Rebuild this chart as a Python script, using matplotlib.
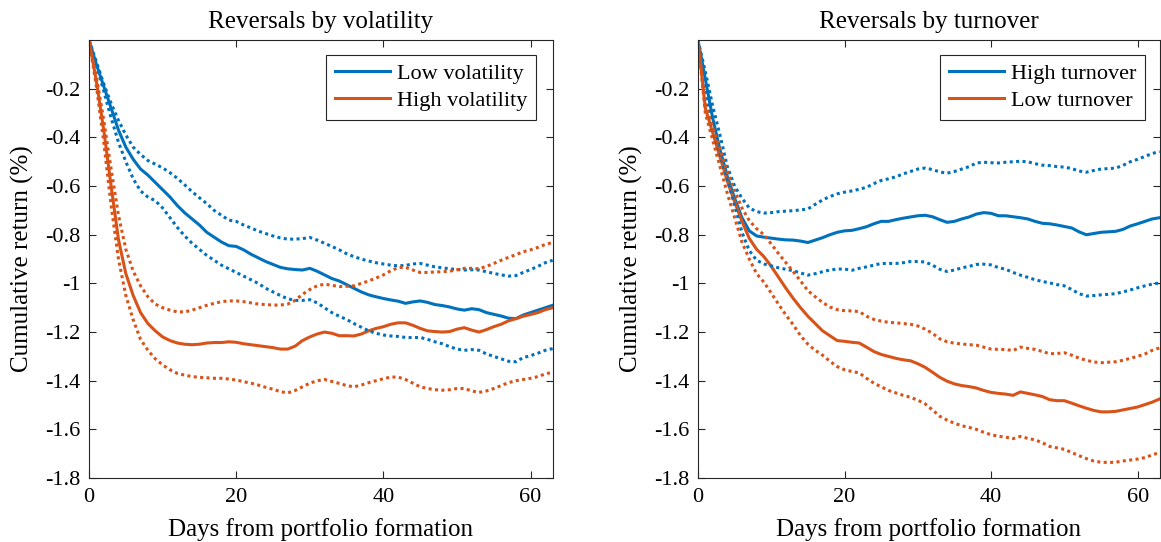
import matplotlib
matplotlib.use("Agg")
import matplotlib.pyplot as plt
import numpy as np

plt.rcParams['font.family'] = ['Liberation Serif', 'DejaVu Serif']

days = list(range(64))

# ---- Left panel: Reversals by volatility ----
low_vol = [0, -0.10, -0.19, -0.28, -0.37, -0.44, -0.49, -0.53, -0.555, -0.585,
           -0.615, -0.645, -0.68, -0.71, -0.735, -0.76, -0.79, -0.81, -0.83, -0.845,
           -0.848, -0.862, -0.88, -0.895, -0.91, -0.922, -0.934, -0.94, -0.943, -0.945,
           -0.938, -0.95, -0.965, -0.98, -0.99, -1.005, -1.02, -1.035, -1.047, -1.055,
           -1.062, -1.068, -1.073, -1.082, -1.076, -1.072, -1.078, -1.087, -1.091, -1.097,
           -1.105, -1.11, -1.104, -1.108, -1.12, -1.127, -1.134, -1.143, -1.145, -1.13,
           -1.12, -1.11, -1.10, -1.09]
low_vol_hi = [0, -0.09, -0.18, -0.26, -0.33, -0.39, -0.44, -0.47, -0.495, -0.51,
              -0.525, -0.545, -0.568, -0.595, -0.623, -0.648, -0.672, -0.70, -0.72, -0.74,
              -0.745, -0.76, -0.772, -0.785, -0.795, -0.805, -0.813, -0.818, -0.818, -0.816,
              -0.811, -0.822, -0.835, -0.848, -0.862, -0.878, -0.89, -0.90, -0.908, -0.915,
              -0.92, -0.925, -0.928, -0.926, -0.92, -0.918, -0.925, -0.932, -0.936, -0.94,
              -0.943, -0.945, -0.944, -0.945, -0.952, -0.959, -0.965, -0.97, -0.968, -0.955,
              -0.943, -0.93, -0.915, -0.905]
low_vol_lo = [0, -0.10, -0.21, -0.32, -0.42, -0.50, -0.57, -0.62, -0.645, -0.66,
              -0.69, -0.73, -0.77, -0.805, -0.835, -0.86, -0.885, -0.905, -0.925, -0.94,
              -0.955, -0.97, -0.985, -1.00, -1.02, -1.035, -1.05, -1.063, -1.07, -1.07,
              -1.067, -1.08, -1.10, -1.12, -1.135, -1.148, -1.165, -1.18, -1.195, -1.205,
              -1.212, -1.216, -1.218, -1.222, -1.223, -1.222, -1.23, -1.24, -1.248, -1.26,
              -1.27, -1.275, -1.272, -1.275, -1.29, -1.30, -1.31, -1.32, -1.322, -1.305,
              -1.297, -1.287, -1.275, -1.268]
high_vol = [0, -0.17, -0.37, -0.60, -0.82, -0.96, -1.05, -1.12, -1.165, -1.195,
            -1.22, -1.235, -1.245, -1.25, -1.252, -1.25, -1.245, -1.243, -1.243, -1.24,
            -1.242, -1.248, -1.252, -1.256, -1.26, -1.264, -1.27, -1.27, -1.258, -1.235,
            -1.22, -1.208, -1.20, -1.205, -1.215, -1.215, -1.216, -1.208, -1.195, -1.185,
            -1.178, -1.168, -1.162, -1.162, -1.172, -1.185, -1.195, -1.198, -1.20, -1.198,
            -1.188, -1.182, -1.192, -1.20, -1.19, -1.178, -1.168, -1.154, -1.145, -1.135,
            -1.128, -1.12, -1.108, -1.10]
high_vol_hi = [0, -0.15, -0.33, -0.53, -0.72, -0.86, -0.95, -1.01, -1.055, -1.085,
               -1.10, -1.11, -1.117, -1.117, -1.11, -1.10, -1.09, -1.082, -1.075, -1.072,
               -1.072, -1.075, -1.08, -1.085, -1.087, -1.089, -1.089, -1.085, -1.07, -1.045,
               -1.025, -1.01, -1.003, -1.008, -1.013, -1.012, -1.01, -1.00, -0.99, -0.978,
               -0.965, -0.948, -0.935, -0.934, -0.945, -0.955, -0.955, -0.953, -0.952, -0.95,
               -0.944, -0.938, -0.938, -0.94, -0.93, -0.918, -0.905, -0.893, -0.882, -0.87,
               -0.862, -0.852, -0.84, -0.832]
high_vol_lo = [0, -0.19, -0.42, -0.68, -0.90, -1.05, -1.15, -1.23, -1.275, -1.31,
               -1.335, -1.355, -1.37, -1.377, -1.383, -1.386, -1.388, -1.39, -1.39, -1.393,
               -1.397, -1.404, -1.41, -1.418, -1.427, -1.435, -1.445, -1.45, -1.44, -1.425,
               -1.41, -1.40, -1.395, -1.403, -1.411, -1.42, -1.425, -1.418, -1.408, -1.40,
               -1.392, -1.385, -1.385, -1.395, -1.41, -1.425, -1.432, -1.437, -1.439, -1.437,
               -1.432, -1.432, -1.442, -1.448, -1.442, -1.432, -1.42, -1.408, -1.40, -1.395,
               -1.39, -1.383, -1.372, -1.365]

# ---- Right panel: Reversals by turnover ----
high_to = [0, -0.16, -0.32, -0.45, -0.56, -0.65, -0.73, -0.784, -0.805, -0.81,
           -0.814, -0.818, -0.821, -0.822, -0.826, -0.832, -0.822, -0.812, -0.80, -0.79,
           -0.784, -0.782, -0.775, -0.767, -0.755, -0.745, -0.745, -0.738, -0.732, -0.727,
           -0.722, -0.72, -0.726, -0.738, -0.749, -0.745, -0.735, -0.727, -0.715, -0.709,
           -0.712, -0.722, -0.722, -0.726, -0.73, -0.735, -0.745, -0.753, -0.755, -0.76,
           -0.766, -0.772, -0.788, -0.80, -0.795, -0.79, -0.788, -0.786, -0.778, -0.764,
           -0.755, -0.745, -0.735, -0.73]
high_to_hi = [0, -0.13, -0.27, -0.39, -0.52, -0.60, -0.65, -0.69, -0.705, -0.711,
              -0.709, -0.705, -0.703, -0.701, -0.698, -0.694, -0.675, -0.657, -0.643, -0.632,
              -0.625, -0.62, -0.613, -0.605, -0.59, -0.577, -0.57, -0.562, -0.55, -0.54,
              -0.53, -0.526, -0.532, -0.542, -0.547, -0.54, -0.53, -0.52, -0.505, -0.502,
              -0.504, -0.505, -0.502, -0.50, -0.498, -0.50, -0.508, -0.514, -0.516, -0.52,
              -0.522, -0.528, -0.538, -0.543, -0.536, -0.53, -0.528, -0.526, -0.515, -0.50,
              -0.49, -0.478, -0.466, -0.458]
high_to_lo = [0, -0.19, -0.37, -0.47, -0.57, -0.68, -0.79, -0.865, -0.905, -0.92,
              -0.928, -0.936, -0.942, -0.948, -0.957, -0.966, -0.96, -0.952, -0.945, -0.941,
              -0.941, -0.946, -0.938, -0.932, -0.925, -0.918, -0.918, -0.918, -0.915, -0.91,
              -0.91, -0.912, -0.925, -0.942, -0.951, -0.945, -0.936, -0.93, -0.922, -0.921,
              -0.924, -0.935, -0.942, -0.955, -0.966, -0.975, -0.985, -0.992, -0.998, -1.005,
              -1.01, -1.025, -1.042, -1.052, -1.05, -1.047, -1.045, -1.042, -1.035, -1.027,
              -1.018, -1.01, -1.003, -0.998]
low_to = [0, -0.28, -0.38, -0.48, -0.58, -0.665, -0.745, -0.815, -0.86, -0.89,
          -0.93, -0.975, -1.02, -1.062, -1.10, -1.135, -1.165, -1.195, -1.215, -1.235,
          -1.238, -1.242, -1.245, -1.262, -1.28, -1.292, -1.30, -1.308, -1.314, -1.318,
          -1.33, -1.345, -1.365, -1.386, -1.402, -1.413, -1.42, -1.424, -1.43, -1.44,
          -1.448, -1.452, -1.455, -1.46, -1.446, -1.452, -1.458, -1.465, -1.478, -1.482,
          -1.482, -1.492, -1.503, -1.513, -1.522, -1.528, -1.528, -1.526, -1.52, -1.514,
          -1.508, -1.498, -1.488, -1.475]
low_to_hi = [0, -0.26, -0.36, -0.45, -0.54, -0.62, -0.69, -0.742, -0.775, -0.80,
             -0.838, -0.878, -0.915, -0.952, -0.99, -1.03, -1.055, -1.078, -1.097, -1.108,
             -1.112, -1.113, -1.116, -1.135, -1.148, -1.155, -1.16, -1.162, -1.165, -1.168,
             -1.175, -1.188, -1.205, -1.228, -1.24, -1.246, -1.249, -1.252, -1.254, -1.262,
             -1.27, -1.271, -1.272, -1.276, -1.262, -1.267, -1.271, -1.28, -1.289, -1.288,
             -1.285, -1.295, -1.307, -1.316, -1.323, -1.326, -1.324, -1.322, -1.316, -1.308,
             -1.30, -1.29, -1.275, -1.265]
low_to_lo = [0, -0.30, -0.41, -0.52, -0.63, -0.73, -0.83, -0.90, -0.96, -0.995,
             -1.04, -1.086, -1.13, -1.17, -1.215, -1.25, -1.275, -1.295, -1.32, -1.342,
             -1.355, -1.362, -1.368, -1.39, -1.41, -1.425, -1.44, -1.45, -1.46, -1.468,
             -1.48, -1.495, -1.52, -1.546, -1.562, -1.575, -1.585, -1.592, -1.60, -1.612,
             -1.622, -1.628, -1.632, -1.638, -1.629, -1.637, -1.643, -1.655, -1.67, -1.676,
             -1.682, -1.695, -1.708, -1.72, -1.73, -1.735, -1.736, -1.735, -1.73, -1.726,
             -1.722, -1.716, -1.705, -1.695]

titles = ["Reversals by volatility", "Reversals by turnover"]
legend_left = ["Low volatility", "High volatility"]
legend_right = ["High turnover", "Low turnover"]
xlabel = "Days from portfolio formation"
ylabel = "Cumulative return (%)"
yticks = [-1.8, -1.6, -1.4, -1.2, -1.0, -0.8, -0.6, -0.4, -0.2]
ytick_labels = ["-1.8", "-1.6", "-1.4", "-1.2", "-1", "-0.8", "-0.6", "-0.4", "-0.2"]
xticks = [0, 20, 40, 60]

BLUE = "#0072BD"
ORANGE = "#D95319"
AXC = "#262626"

fig = plt.figure(figsize=(11.61, 5.42), dpi=100)
axL = fig.add_axes([0.0767, 0.118, 0.3993, 0.808])
axR = fig.add_axes([0.6012, 0.118, 0.3976, 0.808])

dot = (0, (1, 1.1))
LW = 2.2


def style(ax, title, handles, labels, leg_anchor):
    ax.set_xlim(0, 63)
    ax.set_ylim(-1.8, 0)
    ax.set_xticks(xticks)
    ax.set_xticklabels([str(t) for t in xticks])
    ax.set_yticks(yticks)
    ax.set_yticklabels(ytick_labels)
    ax.tick_params(direction='in', top=True, right=True, length=5, width=0.8,
                   colors=AXC, labelsize=16, labelcolor='black')
    ax.tick_params(axis='x', pad=7)
    ax.tick_params(axis='y', pad=6)
    for s in ax.spines.values():
        s.set_color(AXC)
        s.set_linewidth(0.8)
    ax.set_title(title, fontsize=18, pad=9)
    ax.set_xlabel(xlabel, fontsize=18, labelpad=8)
    ax.set_ylabel(ylabel, fontsize=18, labelpad=8)
    leg = ax.legend(handles, labels, loc='upper right', bbox_to_anchor=leg_anchor,
                    borderaxespad=0, fontsize=16, handlelength=2.5,
                    handletextpad=0.3, borderpad=0.38, labelspacing=0.3,
                    fancybox=False, framealpha=1)
    leg.get_frame().set_edgecolor(AXC)
    leg.get_frame().set_linewidth(0.8)


h1, = axL.plot(days, low_vol, color=BLUE, lw=LW)
h2, = axL.plot(days, high_vol, color=ORANGE, lw=LW)
axL.plot(days, low_vol_hi, color=BLUE, lw=LW, ls=dot)
axL.plot(days, low_vol_lo, color=BLUE, lw=LW, ls=dot)
axL.plot(days, high_vol_hi, color=ORANGE, lw=LW, ls=dot)
axL.plot(days, high_vol_lo, color=ORANGE, lw=LW, ls=dot)
style(axL, titles[0], [h1, h2], legend_left, (0.964, 0.966))

g1, = axR.plot(days, high_to, color=BLUE, lw=LW)
g2, = axR.plot(days, low_to, color=ORANGE, lw=LW)
axR.plot(days, high_to_hi, color=BLUE, lw=LW, ls=dot)
axR.plot(days, high_to_lo, color=BLUE, lw=LW, ls=dot)
axR.plot(days, low_to_hi, color=ORANGE, lw=LW, ls=dot)
axR.plot(days, low_to_lo, color=ORANGE, lw=LW, ls=dot)
style(axR, titles[1], [g1, g2], legend_right, (0.968, 0.966))

fig.savefig("out.png", dpi=100)
